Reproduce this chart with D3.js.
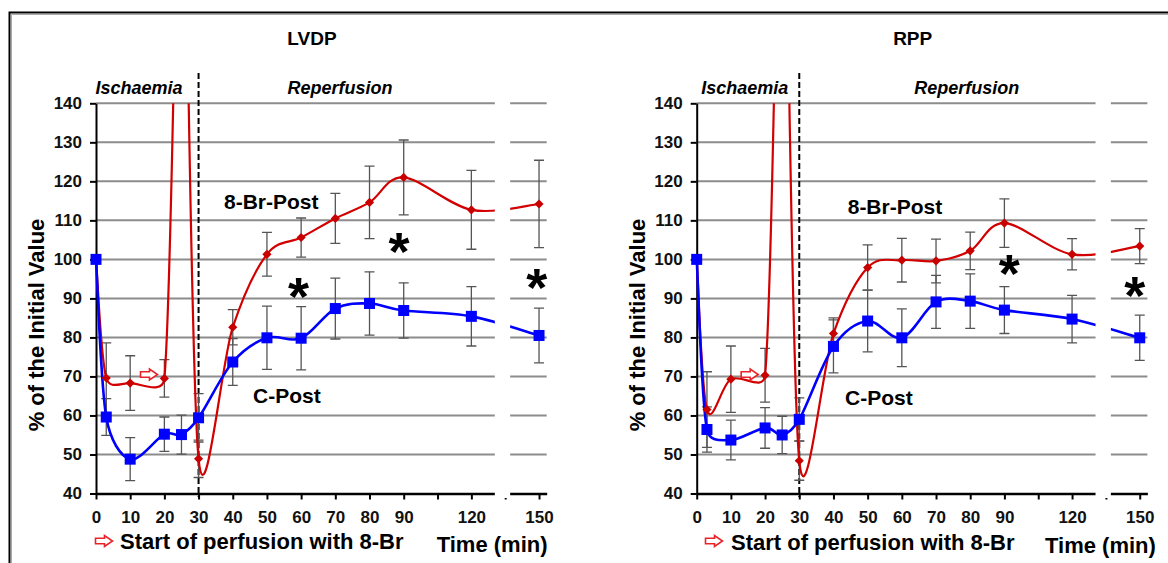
<!DOCTYPE html>
<html>
<head>
<meta charset="utf-8">
<script src="https://cdn.jsdelivr.net/npm/d3@7"></script>
<style>
  body { margin: 0; background: #fff; }
  text { font-family: "Liberation Sans", Arial, sans-serif; }
</style>
</head>
<body>
<svg id="chart" width="1168" height="563"></svg>
<script>
// sampling times (min)
const times = [0, 3, 10, 20, 25, 30, 40, 50, 60, 70, 80, 90, 120, 150];

// LVDP (% of initial)
const lvdpC      = [100, 59.6, 48.8, 55.2, 55.1, 59.4, 73.7, 79.9, 79.8, 87.4, 88.7, 86.9, 85.4, 80.5];
const lvdpCErr   = [0, 4.7, 5.5, 4.4, 5, 6.2, 6, 8.1, 8.1, 7.8, 8.1, 7.1, 7.6, 7];
const lvdpBr     = [100, 69.6, 68.3, 69.5, 210, 48.9, 82.6, 101.3, 105.6, 110.5, 114.6, 121, 112.7, 114.2];
const lvdpBrErr  = [0, 9, 7, 4.8, 0, 4.8, 4.5, 5.6, 5, 6.4, 9.3, 9.6, 10.1, 11.2];
const lvdpStars  = [[59.2, 93.5], [88.6, 105], [149, 95.7]];

// RPP (% of initial)
const rppC       = [100, 56.4, 53.7, 56.8, 55, 59, 77.7, 84.2, 79.9, 89.1, 89.3, 87, 84.7, 79.9];
const rppCErr    = [0, 5.8, 5.1, 5.2, 4.8, 5.5, 6.8, 7.9, 7.4, 6.8, 7, 6, 6.1, 5.8];
const rppBr      = [100, 61.5, 69.3, 70.3, 210, 48.4, 81, 97.9, 99.8, 99.6, 102.2, 109.3, 101.3, 103.4];
const rppBrErr   = [0, 9.7, 8.5, 6.9, 0, 5, 4, 5.8, 5.6, 5.6, 4.8, 6.2, 4, 4.5];
const rppStars   = [[92.2, 99.4], [147.8, 93.8]];

const xTickValues = [0, 10, 20, 30, 40, 50, 60, 70, 80, 90, 105, 120, 135, 150];
const xTickHidden = [105, 135];
const yTickValues = [40, 50, 60, 70, 80, 90, 100, 110, 120, 130, 140];
const arrowAt = [15.5, 70.5];

// spreadsheet-style smoothing: catmull-rom handles, shortened next to short segments
function curveSmooth(context) {
  let pts;
  return {
    areaStart() {}, areaEnd() {},
    lineStart() { pts = []; },
    point(px, py) { pts.push([+px, +py]); },
    lineEnd() {
      const n = pts.length;
      if (!n) return;
      const dist = (a, b) => Math.hypot(b[0] - a[0], b[1] - a[1]);
      const h = pts.map((p, i) => {
        const a = pts[Math.max(i - 1, 0)], b = pts[Math.min(i + 1, n - 1)];
        const t = [(b[0] - a[0]) / 6, (b[1] - a[1]) / 6];
        const len = Math.hypot(t[0], t[1]) || 1;
        const sb = i > 0 ? Math.min(1, 0.5 * dist(pts[i - 1], p) / len) : 0;
        const sf = i < n - 1 ? Math.min(1, 0.5 * dist(p, pts[i + 1]) / len) : 0;
        return { back: [p[0] - t[0] * sb, p[1] - t[1] * sb], fwd: [p[0] + t[0] * sf, p[1] + t[1] * sf] };
      });
      context.moveTo(pts[0][0], pts[0][1]);
      for (let i = 1; i < n; i++) {
        const c1 = h[i - 1].fwd, c2 = h[i].back;
        context.bezierCurveTo(c1[0], c1[1], c2[0], c2[1], pts[i][0], pts[i][1]);
      }
    }
  };
}

const svg = d3.select("#chart");

// outer frame
svg.append("path").attr("d", "M11.5,563V14.5H1168").attr("fill", "none").attr("stroke", "#aaa").attr("stroke-width", 1);
svg.append("path").attr("d", "M9.5,563V12.5H1168").attr("fill", "none").attr("stroke", "#000").attr("stroke-width", 2);

const x = d3.scaleLinear().domain([0, 90, 153.4]).range([0, 307.7, 450.7]);
const y = d3.scaleLinear().domain([40, 140]).range([493.5, 103.3]);
const xEnd = 153.4;
const gap = [130.4, 137.2];

const blue = "#0000ff", red = "#d20000";

svg.append("defs").append("clipPath").attr("id", "plotclip")
  .append("rect").attr("x", -8).attr("y", y(140)).attr("width", x(xEnd) + 16).attr("height", y(40) - y(140) + 10);

const panels = [
  { title: "LVDP", x0: 96, c: lvdpC, ce: lvdpCErr, br: lvdpBr, bre: lvdpBrErr, stars: lvdpStars,
    isch: 43, rep: 244, brLab: [128, 209], cLab: [157, 402.5], start: [24, 548.6], arrow: 8, time: [340.7, 551.9] },
  { title: "RPP", x0: 696.7, c: rppC, ce: rppCErr, br: rppBr, bre: rppBrErr, stars: rppStars,
    isch: 48, rep: 270, brLab: [151, 214], cLab: [148.3, 404.8], start: [34.3, 549.6], arrow: 17.3, time: [348.3, 552.9] }
];

function arrowPath(g, cx, cy) {
  g.append("path")
    .attr("d", "M-8.5,-2.8H0.5V-5.5L8.5,0L0.5,5.5V2.8H-8.5Z")
    .attr("transform", `translate(${cx},${cy})`)
    .attr("fill", "#fff").attr("stroke", "#e8242a").attr("stroke-width", 1.6);
}

panels.forEach(p => {
  const g = svg.append("g").attr("transform", `translate(${p.x0},0)`);

  // grid lines
  g.append("g").selectAll("line").data(yTickValues.filter(v => v > 40)).join("line")
    .attr("x1", 0).attr("x2", x(xEnd))
    .attr("y1", d => y(d)).attr("y2", d => y(d))
    .attr("stroke", "#8c8c8c").attr("stroke-width", 2);

  // axes
  const xAxis = g.append("g").attr("transform", `translate(0,${y(40)})`)
    .call(d3.axisBottom(x).tickValues(xTickValues).tickSize(6).tickSizeOuter(0).tickPadding(11)
      .tickFormat(d => xTickHidden.includes(d) ? "" : d));
  xAxis.select(".domain").attr("stroke", "#000").attr("stroke-width", 2.5);
  xAxis.selectAll(".tick line").attr("stroke", "#000").attr("stroke-width", 2);
  xAxis.selectAll("text").attr("font-size", 17).attr("font-weight", "bold").attr("fill", "#111")
    .attr("font-family", '"Liberation Sans", Arial, sans-serif');

  const yAxis = g.append("g")
    .call(d3.axisLeft(y).tickValues(yTickValues).tickSize(6).tickSizeOuter(0).tickPadding(8));
  yAxis.select(".domain").attr("stroke", "#000").attr("stroke-width", 2);
  yAxis.selectAll(".tick line").attr("stroke", "#000").attr("stroke-width", 2);
  yAxis.selectAll("text").attr("font-size", 17).attr("font-weight", "bold").attr("fill", "#111")
    .attr("font-family", '"Liberation Sans", Arial, sans-serif');

  // ischaemia / reperfusion divider
  g.append("line").attr("x1", x(30)).attr("x2", x(30)).attr("y1", 73).attr("y2", 497)
    .attr("stroke", "#000").attr("stroke-width", 2).attr("stroke-dasharray", "6,3");

  const plot = g.append("g").attr("clip-path", "url(#plotclip)");

  const series = [
    { v: p.br, e: p.bre, color: red },
    { v: p.c, e: p.ce, color: blue }
  ];

  // error bars
  series.forEach(s => {
    const eb = plot.append("g").selectAll("g")
      .data(times.map((t, i) => ({ t, v: s.v[i], e: s.e[i] })).filter(d => d.e > 0))
      .join("g").attr("stroke", "#555").attr("stroke-width", 1.3);
    eb.append("line").attr("x1", d => x(d.t)).attr("x2", d => x(d.t))
      .attr("y1", d => y(d.v - d.e)).attr("y2", d => y(d.v + d.e));
    eb.append("line").attr("x1", d => x(d.t) - 5).attr("x2", d => x(d.t) + 5)
      .attr("y1", d => y(d.v + d.e)).attr("y2", d => y(d.v + d.e));
    eb.append("line").attr("x1", d => x(d.t) - 5).attr("x2", d => x(d.t) + 5)
      .attr("y1", d => y(d.v - d.e)).attr("y2", d => y(d.v - d.e));
  });

  // smoothed lines
  const line = d3.line().x((d, i) => x(times[i])).y(d => y(d)).curve(curveSmooth);
  series.forEach(s => {
    plot.append("path").datum(s.v).attr("d", line)
      .attr("fill", "none").attr("stroke", s.color).attr("stroke-width", s.color === blue ? 2.6 : 2.2);
  });

  // markers
  plot.append("g").selectAll("path")
    .data(times.map((t, i) => ({ t, v: p.br[i] })).filter(d => d.v <= 140))
    .join("path")
    .attr("d", d3.symbol(d3.symbolSquare, 42))
    .attr("transform", d => `translate(${x(d.t)},${y(d.v)}) rotate(45)`)
    .attr("fill", "#c80000");
  plot.append("g").selectAll("rect")
    .data(times.map((t, i) => ({ t, v: p.c[i] })))
    .join("rect")
    .attr("x", d => x(d.t) - 5.5).attr("y", d => y(d.v) - 5.5)
    .attr("width", 11).attr("height", 11).attr("fill", blue);

  // axis break
  g.append("rect").attr("x", x(gap[0])).attr("y", 95)
    .attr("width", x(gap[1]) - x(gap[0])).attr("height", y(40) - 95 + 4.5).attr("fill", "#fff");

  // start-of-perfusion arrow in plot
  arrowPath(g, x(arrowAt[0]), y(arrowAt[1]));

  // significance stars
  g.append("g").selectAll("text").data(p.stars).join("text")
    .attr("x", d => x(d[0])).attr("y", d => y(d[1]) + 30)
    .attr("text-anchor", "middle").attr("font-size", 54).attr("font-weight", "bold").text("*");

  // texts
  g.append("text").attr("x", 216).attr("y", 45).attr("text-anchor", "middle")
    .attr("font-size", 19).attr("font-weight", "bold").text(p.title);
  g.append("text").attr("x", p.isch).attr("y", 94.4).attr("text-anchor", "middle")
    .attr("font-size", 18).attr("font-weight", "bold").attr("font-style", "italic").text("Ischaemia");
  g.append("text").attr("x", p.rep).attr("y", 94.4).attr("text-anchor", "middle")
    .attr("font-size", 18).attr("font-weight", "bold").attr("font-style", "italic").text("Reperfusion");
  g.append("text").attr("x", p.brLab[0]).attr("y", p.brLab[1])
    .attr("font-size", 21).attr("font-weight", "bold").text("8-Br-Post");
  g.append("text").attr("x", p.cLab[0]).attr("y", p.cLab[1])
    .attr("font-size", 21).attr("font-weight", "bold").text("C-Post");
  arrowPath(g, p.arrow, 541);
  g.append("text").attr("x", p.start[0]).attr("y", p.start[1])
    .attr("font-size", 22).attr("font-weight", "bold").text("Start of perfusion with 8-Br");
  g.append("text").attr("x", p.time[0]).attr("y", p.time[1])
    .attr("font-size", 22).attr("font-weight", "bold").text("Time (min)");
  g.append("text").attr("transform", "translate(-52,325) rotate(-90)").attr("text-anchor", "middle")
    .attr("font-size", 22).attr("font-weight", "bold").text("% of the Initial Value");
});
</script>
</body>
</html>
